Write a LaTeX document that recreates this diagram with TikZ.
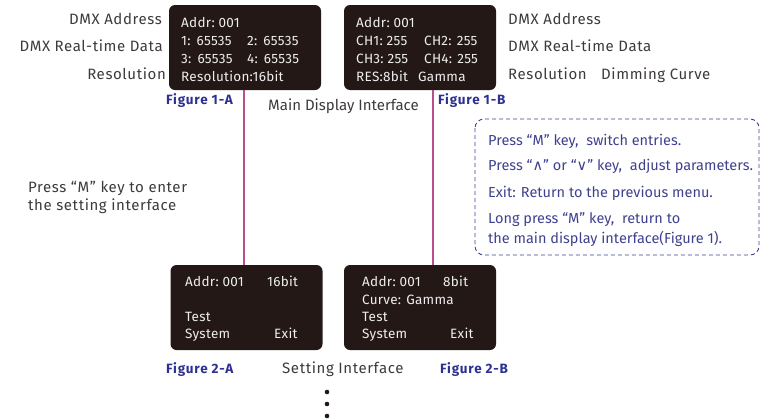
\documentclass[tikz,border=0pt]{standalone}
\usepackage{fontspec}
\setmainfont{Fira Sans}
\newfontfamily\sidefont{Fira Sans}[LetterSpace=4]
\newfontfamily\screenfont{Fira Sans}[LetterSpace=2]
\newfontfamily\tagfont{Fira Sans}[LetterSpace=6]
\newfontfamily\symfont{DejaVu Sans}
\definecolor{screenbg}{HTML}{231815}
\definecolor{screenfg}{HTML}{EEEEEE}
\definecolor{sidegray}{HTML}{3E3A39}
\definecolor{navy}{HTML}{2E3192}
\definecolor{hintblue}{HTML}{3F418F}
\definecolor{linkpink}{HTML}{B94F8F}

\begin{document}
\begin{tikzpicture}[x=1pt,y=-1pt,
	screen/.style={fill=screenbg,rounded corners=6pt,minimum width=152pt,minimum height=85pt,inner sep=0pt},
	scrtext/.style={anchor=base west,text=screenfg,inner sep=0pt,font=\screenfont\fontsize{13.5}{15}\selectfont},
	sidetext/.style={anchor=base west,text=sidegray,inner sep=0pt,font=\sidefont\fontsize{15}{17}\selectfont},
	figtag/.style={anchor=base west,text=navy,inner sep=0pt,font=\tagfont\bfseries\fontsize{13.5}{15}\selectfont},
	hinttext/.style={anchor=base west,text=hintblue,inner sep=0pt,font=\fontsize{14.5}{16}\selectfont},
	link/.style={draw=linkpink,line width=1.6pt}]
	\useasboundingbox (0,0) rectangle (760,418);
	\node[screen] (scrA) at (245,47.5) {};
	\node[screen] (scrB) at (420,47.5) {};
	\node[screen] (setA) at (246.5,307.5) {};
	\node[screen] (setB) at (420,307.5) {};
	\draw[link] ([xshift=-1pt]scrA.south) -- ([xshift=-1pt]scrA.south |- setA.north);
	\draw[link] ([xshift=13pt]scrB.south) -- ([xshift=13pt]scrB.south |- setB.north);
	\node[scrtext] (a1) at (181,27) {Addr:\ 001};
	\node[scrtext] (a2) at (181,45) {1:\ \,65535};
	\node[scrtext] (a3) at (247,45) {2:\ \,65535};
	\node[scrtext] (a4) at (181,63) {3:\ \,65535};
	\node[scrtext] (a5) at (247,63) {4:\ \,65535};
	\node[scrtext] (a6) at (181,81) {Resolution:16bit};
	\node[scrtext] (b1) at (356,27) {Addr:\ 001};
	\node[scrtext] (b2) at (356,45) {CH1:\ 255};
	\node[scrtext] (b3) at (424,45) {CH2: 255};
	\node[scrtext] (b4) at (356,63) {CH3:\ 255};
	\node[scrtext] (b5) at (424,63) {CH4: 255};
	\node[scrtext] (b6) at (356,81) {RES:8bit};
	\node[scrtext] (b7) at (418,81) {Gamma};
	\node[scrtext] (c1) at (185,286) {Addr:\ 001};
	\node[scrtext] (c2) at (267,286) {16bit};
	\node[scrtext] (c3) at (185,321) {Test};
	\node[scrtext] (c4) at (185,338) {System};
	\node[scrtext] (c5) at (274,338) {Exit};
	\node[scrtext] (d1) at (362,286) {Addr:\ 001};
	\node[scrtext] (d2) at (443,286) {8bit};
	\node[scrtext] (d3) at (362,304) {Curve: Gamma};
	\node[scrtext] (d4) at (362,321) {Test};
	\node[scrtext] (d5) at (362,338) {System};
	\node[scrtext] (d6) at (450,338) {Exit};
	\node[sidetext,anchor=base east] (addrL) at (162,24) {DMX Address};
	\node[sidetext,anchor=base east] (dataL) at (163,51) {DMX Real-time Data};
	\node[sidetext,anchor=base east] (resL) at (166,79) {Resolution};
	\node[sidetext] (addrR) at (508,24) {DMX Address};
	\node[sidetext] (dataR) at (508,51) {DMX Real-time Data};
	\node[sidetext] (resR) at (508,79) {Resolution};
	\node[sidetext] (curveR) at (601,79) {Dimming Curve};
	\node[figtag] (figA) at (166,104) {Figure 1-A};
	\node[figtag] (figB) at (438,104) {Figure 1-B};
	\node[sidetext,font=\fontsize{15}{17}\selectfont] (mainT) at (268,110) {Main Display Interface};
	\node[sidetext] (enter1) at (28,192) {Press “M” key to enter};
	\node[sidetext] (enter2) at (28,210) {the setting interface};
	\node[figtag] (figC) at (166,373) {Figure 2-A};
	\node[figtag] (figD) at (440,373) {Figure 2-B};
	\node[sidetext] (setT) at (282,373) {Setting Interface};
	\draw[hintblue,dash pattern=on 4pt off 3pt,line width=0.9pt,rounded corners=9pt] (475,119) rectangle (759,255);
	\node[hinttext] (h1) at (488,145) {Press “M” key,\ \ switch entries.};
	\node[hinttext] (h2) at (488,170) {Press “{\symfont ∧}” or “{\symfont ∨}” key,\ \ adjust parameters.};
	\node[hinttext] (h3) at (488,197) {Exit: Return to the previous menu.};
	\node[hinttext] (h4) at (488,223) {Long press “M” key,\ \ return to};
	\node[hinttext] (h5) at (488,243) {the main display interface(Figure 1).};
	\foreach \y in {392,404,416}
		\fill[screenbg] (327,\y) circle (2.3pt);
\end{tikzpicture}
\end{document}
